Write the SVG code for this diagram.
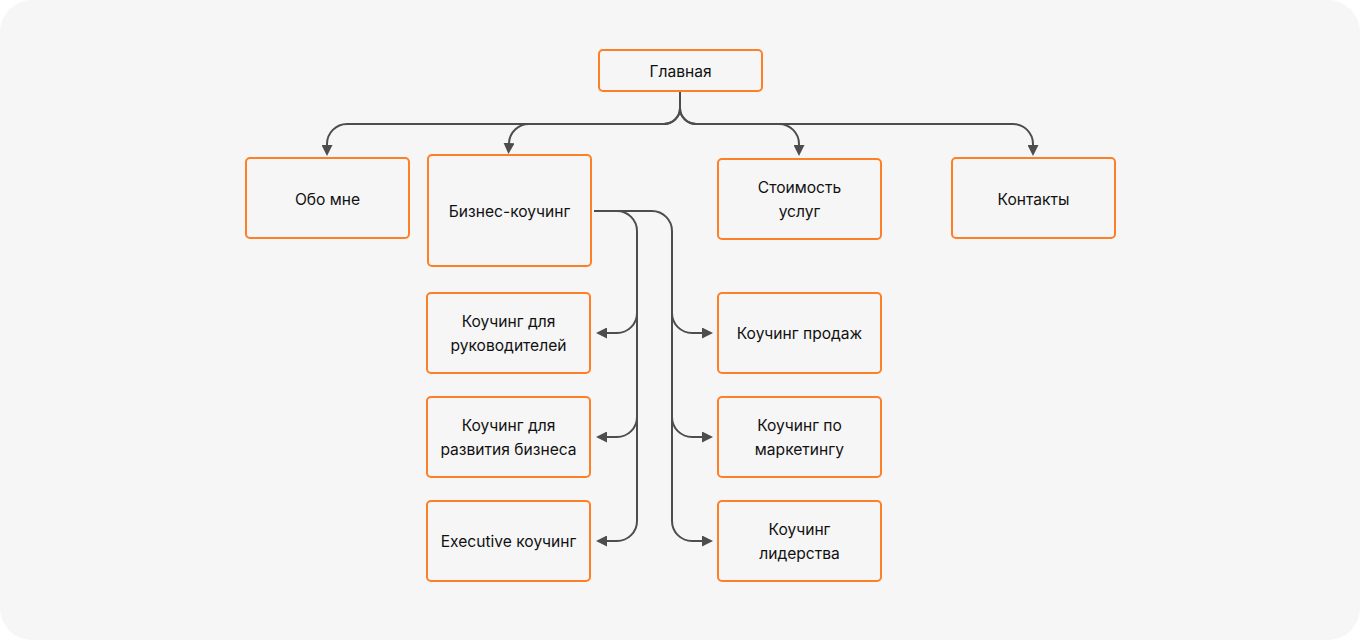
<svg xmlns="http://www.w3.org/2000/svg" width="1360" height="640" viewBox="0 0 1360 640">
<defs>
<style>
.node rect{fill:#f6f6f6;stroke:#ff7f27;stroke-width:2}
.node text{font-family:Inter,"Noto Sans",sans-serif;font-size:15.6px;fill:#111111;text-anchor:middle;dominant-baseline:central}
.conn path{fill:none;stroke:#4d4d4d;stroke-width:2;marker-end:url(#arr)}
</style>
<marker id="arr" viewBox="0 0 10 10" refX="0" refY="5" markerWidth="11" markerHeight="11" markerUnits="userSpaceOnUse" orient="auto">
<path d="M0,0 L10,5 L0,10 Z" fill="#4d4d4d"/>
</marker>
</defs>
<rect width="1360" height="640" fill="#ffffff"/>
<rect width="1360" height="640" rx="32" fill="#f6f6f6"/>
<g class="conn">
<path d="M680,92 V108 A16,16 0 0 1 664,124 H347 A20,20 0 0 0 327,144 V145"/>
<path d="M680,92 V108 A16,16 0 0 1 664,124 H529 A20,20 0 0 0 509,143"/>
<path d="M680,92 V108 A16,16 0 0 0 696,124 H779 A20,20 0 0 1 799,144 V145"/>
<path d="M680,92 V108 A16,16 0 0 0 696,124 H1013 A20,20 0 0 1 1033,144 V145"/>
<path d="M594,211 H617 A20,20 0 0 1 637,231 V313 A20,20 0 0 1 617,333 H607"/>
<path d="M637,231 V417 A20,20 0 0 1 617,437 H607"/>
<path d="M637,231 V521 A20,20 0 0 1 617,541 H607"/>
<path d="M594,211 H652 A20,20 0 0 1 672,231 V313 A20,20 0 0 0 692,333 H702"/>
<path d="M672,231 V417 A20,20 0 0 0 692,437 H702"/>
<path d="M672,231 V521 A20,20 0 0 0 692,541 H702"/>
</g>
<g id="n-main" class="node"><rect x="599" y="50" width="163" height="41" rx="4"/><text x="680.5" y="71">Главная</text></g>
<g id="n-about" class="node"><rect x="246" y="158" width="163" height="80" rx="4"/><text x="327.5" y="199">Обо мне</text></g>
<g id="n-biz" class="node"><rect x="428" y="155" width="163" height="111" rx="4"/><text x="509.5" y="211">Бизнес-коучинг</text></g>
<g id="n-price" class="node"><rect x="718" y="159" width="163" height="80" rx="4"/><text x="799.5" y="187">Стоимость</text><text x="799.5" y="211">услуг</text></g>
<g id="n-contacts" class="node"><rect x="952" y="158" width="163" height="80" rx="4"/><text x="1033.5" y="199">Контакты</text></g>
<g id="n-lead" class="node"><rect x="427" y="293" width="163" height="80" rx="4"/><text x="508.5" y="321">Коучинг для</text><text x="508.5" y="345">руководителей</text></g>
<g id="n-dev" class="node"><rect x="427" y="397" width="163" height="80" rx="4"/><text x="508.5" y="425">Коучинг для</text><text x="508.5" y="449">развития бизнеса</text></g>
<g id="n-exec" class="node"><rect x="427" y="501" width="163" height="80" rx="4"/><text x="508.5" y="541">Executive коучинг</text></g>
<g id="n-sales" class="node"><rect x="718" y="293" width="163" height="80" rx="4"/><text x="799.5" y="333">Коучинг продаж</text></g>
<g id="n-mkt" class="node"><rect x="718" y="397" width="163" height="80" rx="4"/><text x="799.5" y="425">Коучинг по</text><text x="799.5" y="449">маркетингу</text></g>
<g id="n-leader" class="node"><rect x="718" y="501" width="163" height="80" rx="4"/><text x="799.5" y="529">Коучинг</text><text x="799.5" y="553">лидерства</text></g>
</svg>
